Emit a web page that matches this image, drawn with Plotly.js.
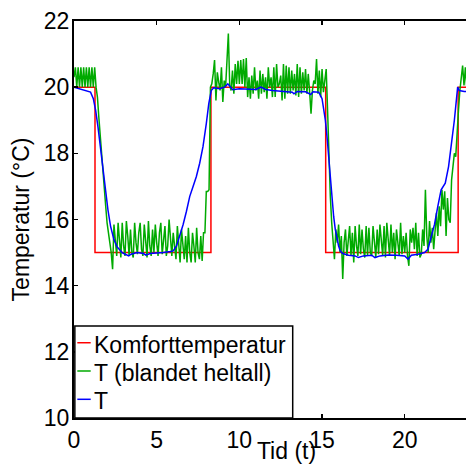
<!DOCTYPE html>
<html>
<head>
<meta charset="utf-8">
<script src="https://cdn.plot.ly/plotly-3.0.1.min.js"></script>
<style>
  html, body { margin: 0; padding: 0; overflow: hidden; background: #fff; }
  #chart { width: 505px; height: 464px; }
</style>
</head>
<body>
<div id="chart"></div>
<script>
// ---- Data ----
const seriesNames = ['Komforttemperatur', 'T (blandet heltall)', 'T'];
const seriesColors = ['#ff0000', '#00aa00', '#0000ff'];

// Komforttemperatur (step function)
const comfortTime = [0, 1.27, 1.27, 8.28, 8.28, 15.22, 15.22, 23.23, 23.23, 24];
const comfortTemp = [20, 20, 15, 15, 20, 20, 15, 15, 20, 20];

// T (blandet heltall): sampled every 5 minutes, one row per hour
const mixedStepHours = 1 / 12;
const mixedTemp = [
  20.3, 20.6, 20.0, 20.6, 20.0, 20.6, 20.0, 20.6, 20.0, 20.6, 20.0, 20.6,
  20.0, 20.6, 20.0, 20.6, 20.0, 19.7, 19.1, 18.5, 17.9, 17.4, 16.9, 16.4,
  15.9, 15.5, 15.3, 15.0, 14.5, 15.85, 15.3, 14.9, 15.9, 15.4, 14.85, 15.9,
  15.2, 14.9, 15.95, 15.5, 14.9, 15.7, 15.0, 14.85, 15.9, 15.3, 14.95, 15.6,
  15.9, 15.1, 14.9, 15.85, 15.4, 14.85, 15.95, 15.2, 14.9, 15.7, 15.0, 15.85,
  15.3, 14.9, 15.6, 15.9, 14.95, 15.5, 15.8, 14.9, 15.2, 16.0, 15.3, 14.9,
  15.6, 15.1, 14.8, 15.8, 15.2, 14.7, 15.7, 15.1, 14.8, 15.5, 14.7, 15.75,
  15.0, 14.7, 15.6, 15.2, 14.7, 15.75, 15.0, 14.8, 15.5, 14.75, 15.6, 15.6,
  16.85, 16.85, 16.9, 20.0, 20.1, 20.4, 20.82, 19.6, 20.45, 20.15, 19.9, 20.6,
  19.55, 20.2, 20.0, 20.8, 21.62, 20.05, 19.9, 20.5, 19.8, 20.7, 20.1, 20.8,
  20.1, 20.82, 20.1, 20.85, 20.0, 20.88, 19.7, 20.3, 19.65, 20.35, 19.8, 20.6,
  19.9, 20.2, 19.65, 20.5, 19.8, 20.4, 19.85, 20.3, 19.65, 20.6, 20.0, 20.3,
  19.7, 20.6, 19.7, 20.7, 20.0, 20.1, 20.35, 19.6, 20.7, 19.65, 20.65, 19.8,
  20.6, 19.8, 20.5, 19.9, 20.4, 19.75, 20.7, 19.7, 20.6, 19.8, 20.45, 19.9,
  20.55, 19.8, 20.4, 19.85, 19.2, 19.9, 20.2, 20.1, 20.85, 19.8, 20.5, 19.7,
  20.55, 19.85, 20.3, 20.55, 19.3, 17.9, 16.7, 15.9, 15.2, 14.8, 15.7, 15.3,
  15.85, 15.0, 15.5, 14.2, 15.3, 15.7, 14.9, 15.4, 15.8, 14.9, 15.6, 14.7,
  15.8, 15.2, 14.9, 15.85, 14.95, 15.7, 15.1, 14.85, 15.8, 14.9, 15.75, 15.0,
  14.9, 15.8, 15.3, 14.85, 15.7, 14.95, 15.85, 15.2, 14.9, 15.8, 14.85, 15.9,
  15.3, 14.9, 15.85, 15.0, 15.6, 14.8, 15.7, 15.2, 14.9, 15.9, 14.95, 15.5,
  15.0, 15.6, 14.9, 14.6, 15.7, 15.3, 15.75, 15.1, 15.9, 14.9, 15.6, 14.85,
  14.95, 15.7, 15.2, 16.9, 15.5, 15.0, 15.95, 15.3, 15.75, 15.1, 15.6, 16.2,
  15.5, 16.4, 15.8, 16.9, 16.3, 16.85, 15.5, 16.65, 16.0, 15.9, 17.2, 17.6,
  18.0, 17.9, 18.8, 19.3, 19.9, 20.4, 20.65, 20.05, 20.6, 20.0, 20.6, 20.0,
  20.5
];
const mixedTime = mixedTemp.map((_, i) => i * mixedStepHours);

// T (continuous)
const contTime = [
  0, 0.5, 1.0, 1.17, 1.31, 1.45, 1.61, 1.77, 1.91, 2.05,
  2.21, 2.41, 2.61, 2.91, 3.1, 3.31, 3.45, 3.6, 3.82, 4.2,
  4.35, 4.6, 5.0, 5.4, 5.83, 6.0, 6.2, 6.4, 6.6, 6.8,
  7.0, 7.2, 7.4, 7.6, 7.8, 8.0, 8.15, 8.3, 8.45, 8.8,
  9.1, 9.3, 9.45, 9.6, 10.0, 10.5, 11.0, 11.3, 11.6, 12.0,
  12.5, 13.0, 13.2, 13.3, 13.5, 14.0, 14.32, 14.45, 14.8, 15.0,
  15.1, 15.2, 15.3, 15.4, 15.5, 15.6, 15.7, 15.8, 15.9, 16.0,
  16.1, 16.25, 16.6, 17.0, 17.2, 17.5, 18.0, 18.2, 18.5, 19.0,
  19.5, 20.0, 20.2, 20.4, 20.8, 21.2, 21.4, 21.6, 21.8, 22.0,
  22.2, 22.45, 22.65, 22.85, 23.0, 23.2, 23.3, 23.6, 24
];
const contTemp = [
  20.0, 19.92, 19.85, 19.65, 19.3, 18.8, 18.1, 17.4, 16.8, 16.3,
  15.8, 15.4, 15.17, 15.0, 14.95, 14.9, 14.95, 14.97, 15.0, 14.97,
  14.92, 14.97, 14.98, 15.0, 15.03, 15.05, 15.2, 15.5, 15.85, 16.25,
  16.7, 17.0, 17.3, 17.7, 18.2, 18.9, 19.5, 19.9, 19.98, 19.95,
  20.0, 20.1, 20.0, 19.92, 19.95, 19.95, 19.93, 20.0, 19.93, 19.9,
  19.88, 19.87, 19.85, 19.8, 19.87, 19.86, 19.78, 19.86, 19.85, 19.65,
  19.35, 19.0, 18.5, 17.9, 17.3, 16.6, 16.1, 15.7, 15.4, 15.2,
  15.05, 14.97, 14.92, 14.9, 14.85, 14.9, 14.92, 14.85, 14.9, 14.93,
  14.92, 14.9, 14.8, 14.92, 14.95, 15.0, 15.1, 15.5, 15.85, 16.4,
  16.9, 17.1, 17.6, 18.4, 19.0, 20.0, 19.9, 19.87, 19.87
];

const xTicks = [0, 5, 10, 15, 20];
const yTicks = [10, 12, 14, 16, 18, 20, 22];

// ---- Chart ----
const FONT = '"Liberation Sans", Arial, Helvetica, sans-serif';
const traces = [
  { x: comfortTime, y: comfortTemp, name: seriesNames[0], mode: 'lines',
    line: { color: seriesColors[0], width: 1.5 } },
  { x: mixedTime, y: mixedTemp, name: seriesNames[1], mode: 'lines',
    line: { color: seriesColors[1], width: 1.5 } },
  { x: contTime, y: contTemp, name: seriesNames[2], mode: 'lines',
    line: { color: seriesColors[2], width: 1.5 } }
];

// custom MATLAB-style legend box (bottom-left of the axes)
const legBox = { x1: 0.5146, y1: 0.2317 };
const legRows = [0.1846, 0.1134, 0.0421];
const legLineDy = 0.005;
const shapes = [{
  type: 'rect', xref: 'paper', yref: 'paper', x0: 0.002, x1: legBox.x1, y0: 0, y1: legBox.y1,
  line: { color: 'black', width: 1.5 }, fillcolor: 'white', layer: 'above'
}];
const annotations = [];
seriesNames.forEach((n, i) => {
  shapes.push({
    type: 'line', xref: 'paper', yref: 'paper', x0: 0.0078, x1: 0.0393,
    y0: legRows[i] + legLineDy, y1: legRows[i] + legLineDy,
    line: { color: seriesColors[i], width: 1.5 }, layer: 'above'
  });
  annotations.push({
    xref: 'paper', yref: 'paper', x: 0.042, y: legRows[i], xanchor: 'left', yanchor: 'middle',
    text: n, showarrow: false, font: { family: FONT, size: 23, color: 'black' }
  });
});

const axisCommon = {
  ticks: 'inside', ticklen: 4, tickwidth: 1.5, tickcolor: 'black',
  showline: true, linecolor: 'black', linewidth: 2, mirror: 'ticks',
  showgrid: false, zeroline: false, automargin: false,
  tickfont: { family: FONT, size: 23, color: 'black' }
};

const layout = {
  width: 505, height: 464,
  margin: { l: 74, r: 6, t: 21, b: 46, pad: 0 },
  paper_bgcolor: 'white', plot_bgcolor: 'white',
  font: { family: FONT, size: 23, color: 'black' },
  showlegend: false,
  xaxis: Object.assign({}, axisCommon, {
    range: [0, 25.7], tickvals: xTicks, ticktext: xTicks.map(String),
    title: { text: 'Tid (t)', font: { family: FONT, size: 23, color: 'black' }, standoff: 4 }
  }),
  yaxis: Object.assign({}, axisCommon, {
    range: [10, 22], tickvals: yTicks, ticktext: yTicks.map(String),
    ticklabelstandoff: -2,
    title: { text: 'Temperatur (°C)', font: { family: FONT, size: 23, color: 'black' }, standoff: 8 }
  }),
  shapes: shapes,
  annotations: annotations
};

Plotly.newPlot('chart', traces, layout, { displayModeBar: false, staticPlot: true });
</script>
</body>
</html>
